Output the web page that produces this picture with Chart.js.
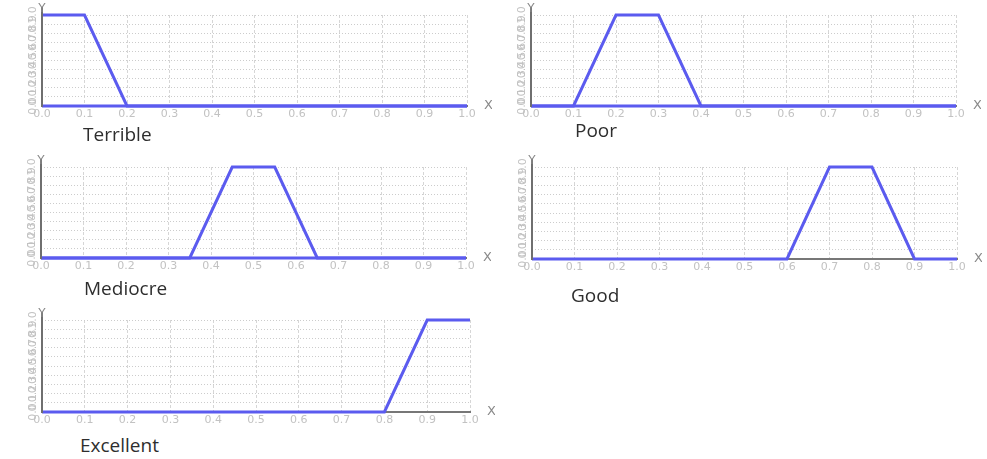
<!DOCTYPE html>
<html>
<head>
<meta charset="utf-8">
<script src="https://cdn.jsdelivr.net/npm/chart.js@4.4.1/dist/chart.umd.min.js"></script>
<style>
  html, body { margin: 0; padding: 0; background: #fff; }
  body { width: 987px; height: 459px; position: relative; overflow: hidden; }
  canvas { position: absolute; }
  .title {
    position: absolute;
    font-family: "Open Sans", sans-serif;
    font-size: 19px;
    line-height: 19px;
    color: #2e2e2e;
    white-space: nowrap;
  }
</style>
</head>
<body>
<script>
// Membership functions of the five quality terms (x in [0, 1], degree in [0, 1])
const tickLabels = ['0.0', '0.1', '0.2', '0.3', '0.4', '0.5', '0.6', '0.7', '0.8', '0.9', '1.0'];

const terribleX  = [0, 0.1, 0.2, 1.0];
const terribleY  = [1, 1, 0, 0];

const poorX      = [0, 0.1, 0.2, 0.3, 0.4, 1.0];
const poorY      = [0, 0, 1, 1, 0, 0];

const mediocreX  = [0, 0.35, 0.45, 0.55, 0.65, 1.0];
const mediocreY  = [0, 0, 1, 1, 0, 0];

const goodX      = [0, 0.6, 0.7, 0.8, 0.9, 1.0];
const goodY      = [0, 0, 1, 1, 0, 0];

const excellentX = [0, 0.8, 0.9, 1.0];
const excellentY = [0, 0, 1, 1];

// straight baseline along the x axis, drawn under some of the terms
const baselineX  = [0, 1.0];
const baselineY  = [0, 0];

const terms = [
  { name: 'Terrible',  xs: terribleX,  ys: terribleY,  base: true  },
  { name: 'Poor',      xs: poorX,      ys: poorY,      base: true  },
  { name: 'Mediocre',  xs: mediocreX,  ys: mediocreY,  base: true  },
  { name: 'Good',      xs: goodX,      ys: goodY,      base: false },
  { name: 'Excellent', xs: excellentX, ys: excellentY, base: false }
];

// plot-area boxes (left, right, top, bottom) and title placement
const layoutBoxes = [
  { L: 42,  R: 467, T: 15,  B: 106, tx: 83,  ty: 125 },
  { L: 531, R: 956, T: 15,  B: 106, tx: 575, ty: 121 },
  { L: 41,  R: 466, T: 167, B: 258, tx: 84,  ty: 279 },
  { L: 532, R: 957, T: 167, B: 259, tx: 571, ty: 286 },
  { L: 42,  R: 470, T: 320, B: 412, tx: 80,  ty: 436 }
];

const AXIS_W = 30, PAD_TOP = 15, PAD_RIGHT = 25, XAXIS_H = 20;
const BLUE = '#5b5bef';

const toPoints = (xs, ys) => xs.map((x, i) => ({ x: x, y: ys[i] }));

// draws the Y axis line (running past the top) plus the "Y" and "X" letters
const axisLetters = {
  id: 'axisLetters',
  afterDatasetsDraw(chart) {
    const { ctx, chartArea: a } = chart;
    ctx.save();
    ctx.strokeStyle = '#6f6f6f';
    ctx.lineWidth = 2;
    ctx.beginPath();
    ctx.moveTo(a.left, a.bottom + 1);
    ctx.lineTo(a.left, a.top - 8);
    ctx.stroke();
    ctx.fillStyle = '#8a8a8a';
    ctx.font = '12px "DejaVu Sans", sans-serif';
    ctx.textAlign = 'center';
    ctx.textBaseline = 'alphabetic';
    ctx.fillText('Y', a.left, a.top - 3);
    ctx.font = '13px "DejaVu Sans", sans-serif';
    ctx.textAlign = 'left';
    ctx.textBaseline = 'middle';
    ctx.fillText('X', a.right + 17, a.bottom);
    ctx.restore();
  }
};

terms.forEach((term, k) => {
  const box = layoutBoxes[k];
  const w = (box.R - box.L) + AXIS_W + PAD_RIGHT;
  const h = (box.B - box.T) + PAD_TOP + XAXIS_H;
  const canvas = document.createElement('canvas');
  canvas.width = w; canvas.height = h;
  canvas.style.left = (box.L - AXIS_W) + 'px';
  canvas.style.top = (box.T - PAD_TOP) + 'px';
  canvas.style.width = w + 'px';
  canvas.style.height = h + 'px';
  document.body.appendChild(canvas);

  const title = document.createElement('div');
  title.className = 'title';
  title.textContent = term.name;
  title.style.left = box.tx + 'px';
  title.style.top = box.ty + 'px';
  document.body.appendChild(title);

  const datasets = [];
  if (term.base) {
    datasets.push({
      data: toPoints(baselineX, baselineY),
      borderColor: BLUE, borderWidth: 3, pointRadius: 0, tension: 0, clip: false
    });
  }
  datasets.push({
    label: term.name,
    data: toPoints(term.xs, term.ys),
    borderColor: BLUE, borderWidth: 3, pointRadius: 0, tension: 0, clip: false,
    borderJoinStyle: 'miter'
  });

  new Chart(canvas, {
    type: 'line',
    data: { datasets: datasets },
    options: {
      responsive: false,
      animation: false,
      events: [],
      layout: { padding: { left: 0, top: PAD_TOP, right: PAD_RIGHT, bottom: 0 } },
      plugins: { legend: { display: false }, tooltip: { enabled: false } },
      scales: {
        x: {
          type: 'linear', min: 0, max: 1,
          afterFit(s) { s.height = XAXIS_H; },
          ticks: {
            stepSize: 0.1, autoSkip: false, maxRotation: 0, padding: 2,
            color: '#c2c2c2',
            font: { family: '"DejaVu Sans", sans-serif', size: 11 },
            callback: (v, i) => tickLabels[i]
          },
          // vertical grid lines: dashed
          grid: { color: '#d6d6d6', lineWidth: 1, drawTicks: false },
          border: { display: true, color: '#777', width: 2, dash: [3, 2] }
        },
        y: {
          type: 'linear', min: 0, max: 1,
          afterFit(s) { s.width = AXIS_W; },
          ticks: {
            stepSize: 0.1, autoSkip: false, minRotation: 90, maxRotation: 90,
            crossAlign: 'center', padding: 0,
            color: '#c2c2c2',
            font: { family: '"DejaVu Sans", sans-serif', size: 11 },
            callback: (v, i) => tickLabels[i]
          },
          // horizontal grid lines: dotted
          grid: { color: '#cccccc', lineWidth: 1, drawTicks: false },
          border: { display: false, dash: [1, 2] }
        }
      }
    },
    plugins: [axisLetters]
  });
});
</script>
</body>
</html>
